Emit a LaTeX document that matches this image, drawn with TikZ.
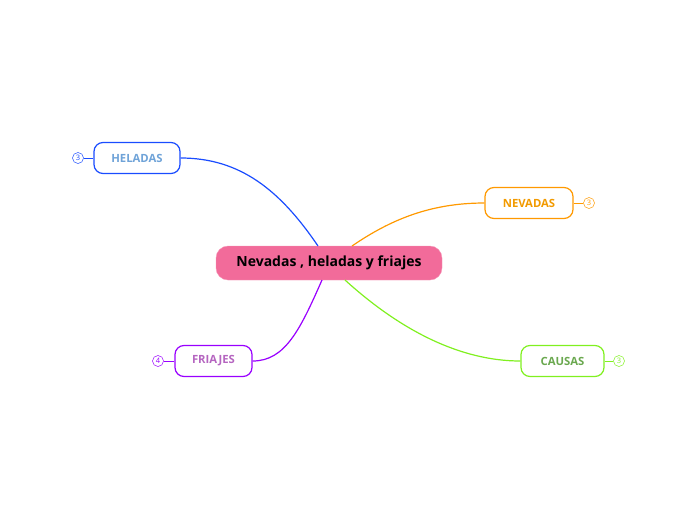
\documentclass[tikz,border=0pt]{standalone}
\usepackage{fontspec}
\setmainfont{Open Sans}
\begin{document}
\begin{tikzpicture}[x=1pt,y=-1pt,
  topic/.style={draw,line width=1.2pt,rounded corners=9pt,minimum height=31pt,font=\bfseries\fontsize{11.3}{13}\selectfont,inner sep=0pt},
  badge/.style={circle,draw,line width=0.5pt,inner sep=0pt,minimum size=11pt,font=\fontsize{7.5}{8}\selectfont},
  link/.style={line width=1.2pt}]
\useasboundingbox (0,0) rectangle (697,520);
\definecolor{pinkc}{HTML}{F26B9A}
\definecolor{blueb}{HTML}{1A4CFF}\definecolor{bluet}{HTML}{6FA3D8}
\definecolor{orgb}{HTML}{FF9900}\definecolor{orgt}{HTML}{F29A00}
\definecolor{grnb}{HTML}{80F020}\definecolor{grnt}{HTML}{6AA84F}
\definecolor{purb}{HTML}{9900FF}\definecolor{purt}{HTML}{B565C0}
\node[fill=pinkc,draw=pinkc!70!white,rounded corners=12pt,minimum width=226pt,minimum height=34pt,font=\bfseries\fontsize{14}{16}\selectfont] (c) at (329,263) {Nevadas , heladas y friajes};
\node[topic,draw=blueb,text=bluet,minimum width=86pt] (h) at (137,158) {HELADAS};
\node[topic,draw=orgb,text=orgt,minimum width=88pt] (n) at (529,203) {NEVADAS};
\node[topic,draw=grnb,text=grnt,minimum width=83pt] (ca) at (562.5,361) {CAUSAS};
\node[topic,draw=purb,text=purt,minimum width=77pt] (f) at (213.5,361) {FRIAJES};
\node[badge,draw=blueb,text=blueb] (bh) at (78,158) {3};
\node[badge,draw=orgb,text=orgb] (bn) at (589,203) {3};
\node[badge,draw=grnb,text=grnb] (bc) at (619,361) {3};
\node[badge,draw=purb,text=purb] (bf) at (158,361) {4};
\draw[blueb,line width=0.6pt] (bh) -- (h);
\draw[orgb,line width=0.6pt] (bn) -- (n);
\draw[grnb,line width=0.6pt] (bc) -- (ca);
\draw[purb,line width=0.6pt] (bf) -- (f);
\coordinate (ch) at (318,246);\coordinate (cn) at (352,246);
\coordinate (cc) at (345,280);\coordinate (cf) at (322,280);
\draw[link,blueb] (ch) .. controls (280,190) and (240,158) .. (h.east);
\draw[link,orgb] (cn) .. controls (390,220) and (430,203) .. (n.west);
\draw[link,grnb] (cc) .. controls (400,330) and (460,361) .. (ca.west);
\draw[link,purb] (cf) .. controls (300,330) and (285,361) .. (f.east);
\end{tikzpicture}
\end{document}
